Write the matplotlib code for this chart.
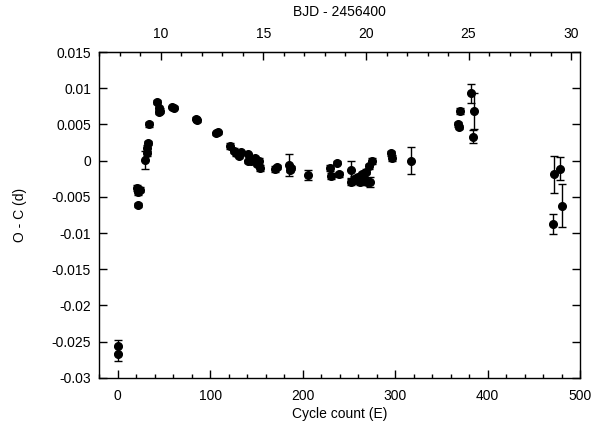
import matplotlib
matplotlib.use('Agg')
import matplotlib.pyplot as plt
from matplotlib.ticker import MultipleLocator, FuncFormatter

plt.rcParams['font.family'] = ['Liberation Sans', 'DejaVu Sans']
plt.rcParams['font.size'] = 10

# cycle count, O-C (d), error (d)
cycle = [0, 0, 21, 22, 24, 22, 29.6, 31, 32, 33, 34, 42, 44, 45, 46, 59, 61,
         85, 86, 106, 108, 121, 126, 128, 131, 133, 141, 141, 144, 148, 150,
         153, 154, 170, 172, 185, 186, 187, 206, 230, 231, 237, 239, 252, 252,
         255, 257, 260, 262, 264, 266, 268, 270, 272, 273, 275, 295, 297, 317,
         368, 369, 370, 382, 385, 384, 471, 472, 478, 480]
oc = [-0.0256, -0.0267, -0.0038, -0.0043, -0.0040, -0.0061, 0.0001, 0.0010,
      0.0017, 0.0024, 0.0050, 0.0081, 0.0072, 0.0067, 0.0069, 0.0074, 0.0073,
      0.0058, 0.0056, 0.0038, 0.0039, 0.0020, 0.0014, 0.0010, 0.0007, 0.0012,
      0.0009, -0.0001, 0.0000, 0.0003, -0.0004, -0.0001, -0.0010, -0.0012,
      -0.0009, -0.0006, -0.0013, -0.0010, -0.0020, -0.0010, -0.0021, -0.0003,
      -0.0019, -0.0013, -0.0029, -0.0025, -0.0027, -0.0022, -0.0030, -0.0019,
      -0.0024, -0.0015, -0.0030, -0.0008, -0.0029, 0.0000, 0.0010, 0.0004,
      0.0000, 0.0050, 0.0046, 0.0069, 0.0093, 0.0069, 0.0033, -0.0087,
      -0.0019, -0.0011, -0.0062]
err = [0.0009, 0.0010, 0.0004, 0.0004, 0.0003, 0.0003, 0.0012, 0.0004,
       0.0004, 0.0003, 0.0003, 0.0003, 0.0003, 0.0003, 0.0003, 0.0002, 0.0002,
       0.0002, 0.0002, 0.0002, 0.0002, 0.0004, 0.0003, 0.0003, 0.0004, 0.0002,
       0.0002, 0.0002, 0.0003, 0.0003, 0.0003, 0.0004, 0.0004, 0.0004,
       0.0003, 0.0015, 0.0003, 0.0003, 0.0007, 0.0004, 0.0004, 0.0002,
       0.0003, 0.0012, 0.0005, 0.0004, 0.0004, 0.0004, 0.0004, 0.0004,
       0.0004, 0.0004, 0.0004, 0.0004, 0.0007, 0.0004, 0.0004, 0.0004,
       0.0019, 0.0004, 0.0003, 0.0004, 0.0013, 0.0025, 0.0009, 0.0014,
       0.0025, 0.0016, 0.0030]

# BJD - 2456400 = T0 + P * E
T0 = 7.9015
P = 0.045077

fig = plt.figure(figsize=(5.95, 4.28), dpi=100)
ax = fig.add_axes([0.167, 0.117, 0.808, 0.7615])

ax.errorbar(cycle, oc, yerr=err, fmt='o', color='black', ms=5.5,
            elinewidth=1, capsize=3, capthick=1)

ax.set_xlim(-20, 500)
ax.set_ylim(-0.03, 0.015)
ax.xaxis.set_major_locator(MultipleLocator(100))
ax.xaxis.set_minor_locator(MultipleLocator(20))
ax.yaxis.set_major_locator(MultipleLocator(0.005))
ax.yaxis.set_major_formatter(FuncFormatter(lambda v, p: '%g' % round(v, 4)))
ax.tick_params(axis='x', which='both', direction='in', top=False, pad=8)
ax.tick_params(axis='y', which='both', direction='in', right=True, pad=6)
ax.tick_params(which='major', length=6, width=1)
ax.tick_params(which='minor', length=3, width=1)

ax.set_xlabel('Cycle count (E)', labelpad=3)
ax.set_ylabel('O - C (d)', labelpad=18)

top = ax.secondary_xaxis('top', functions=(lambda e: T0 + P * e,
                                           lambda b: (b - T0) / P))
top.xaxis.set_major_locator(MultipleLocator(5))
top.xaxis.set_minor_locator(MultipleLocator(1))
top.tick_params(which='both', direction='in', pad=8)
top.tick_params(which='major', length=6, width=1)
top.tick_params(which='minor', length=3, width=1)
top.set_xlabel('BJD - 2456400', labelpad=8)

for s in ax.spines.values():
    s.set_linewidth(1)

fig.savefig('out.png', dpi=100)
